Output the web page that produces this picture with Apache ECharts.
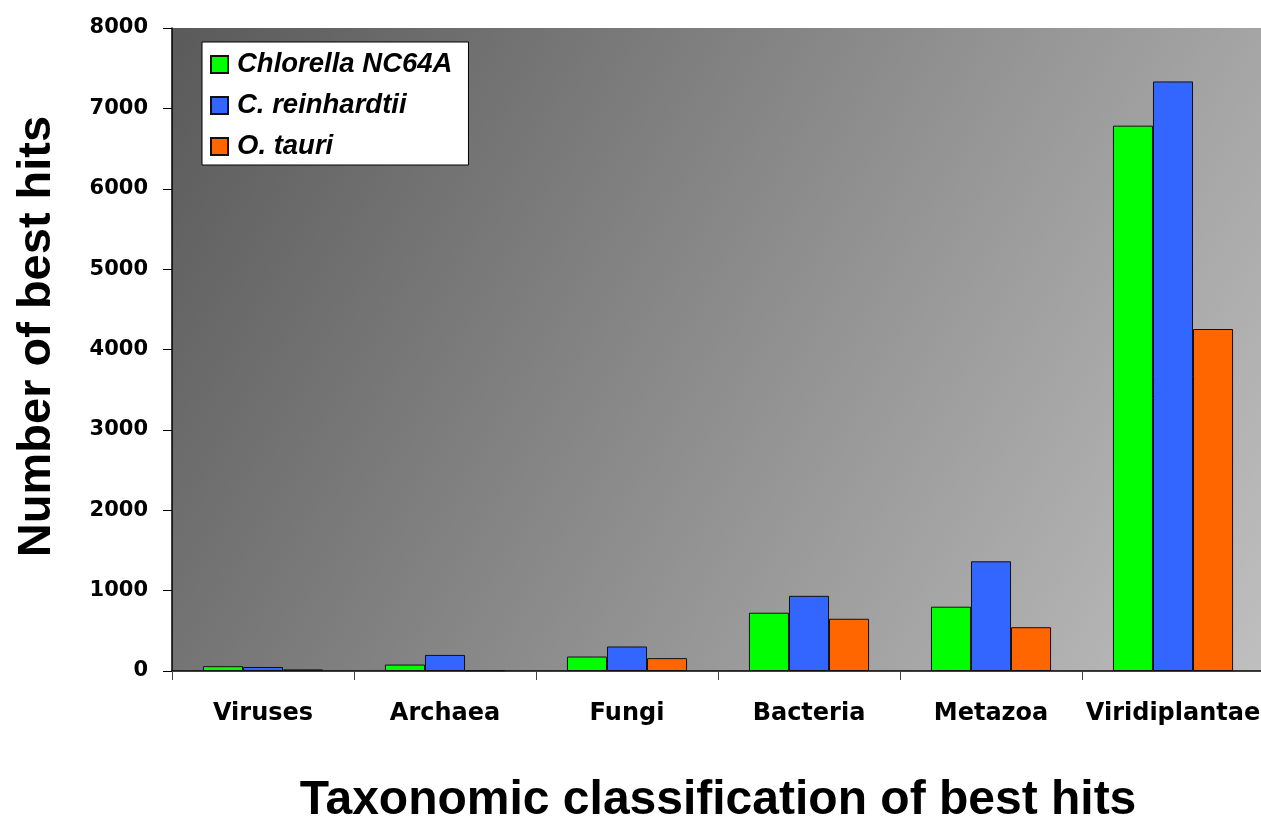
<!DOCTYPE html>
<html>
<head>
<meta charset="utf-8">
<script src="https://cdn.jsdelivr.net/npm/echarts@6/dist/echarts.min.js"></script>
<style>
html,body{margin:0;padding:0;background:#fff;}
#chart{width:1261px;height:818px;}
</style>
</head>
<body>
<div id="chart"></div>
<script>
var categories = ['Viruses', 'Archaea', 'Fungi', 'Bacteria', 'Metazoa', 'Viridiplantae'];
var chlorella = [60, 80, 180, 725, 800, 6785];
var reinhardtii = [50, 200, 305, 935, 1365, 7335];
var tauri = [20, 10, 160, 650, 545, 4255];
var seriesNames = ['Chlorella NC64A', 'C. reinhardtii', 'O. tauri'];
var yTicks = [0, 1000, 2000, 3000, 4000, 5000, 6000, 7000, 8000];

var chart = echarts.init(document.getElementById('chart'));
var FONT = '"Liberation Sans", Arial, sans-serif';
var TICKFONT = '"DejaVu Sans", sans-serif';
var colors = ['#00ff00', '#3366ff', '#ff6600'];
function mk(name, data, i) {
  return {
    name: name, type: 'bar', data: data,
    barGap: '0%', barCategoryGap: '34%',
    itemStyle: { color: colors[i], borderColor: '#111', borderWidth: 1 }
  };
}
chart.setOption({
  animation: false,
  grid: {
    left: 172, top: 28, width: 1092, height: 643,
    containLabel: false, outerBoundsMode: 'none',
    show: true, borderWidth: 0,
    backgroundColor: new echarts.graphic.LinearGradient(0, 0, 1, 1, [
      { offset: 0, color: '#5a5a5a' },
      { offset: 1, color: '#bfbfbf' }
    ])
  },
  legend: {
    orient: 'vertical', left: 202, top: 42,
    data: seriesNames.map(function (n) { return { name: n, icon: 'rect' }; }),
    backgroundColor: '#ffffff', borderColor: '#000', borderWidth: 1,
    padding: [9, 16, 5, 8],
    itemWidth: 17, itemHeight: 17, itemGap: 14,
    textStyle: { fontFamily: FONT, fontWeight: 'bold', fontStyle: 'italic', fontSize: 27.5, lineHeight: 26, color: '#000', padding: [0, 0, 0, 4] }
  },
  xAxis: {
    type: 'category', data: categories,
    name: 'Taxonomic classification of best hits',
    nameLocation: 'middle', nameGap: 106,
    nameTextStyle: { fontFamily: FONT, fontWeight: 'bold', fontSize: 48, color: '#000' },
    axisLine: { lineStyle: { color: '#000', width: 1.5 } },
    axisTick: { show: true, interval: 0, length: 9, lineStyle: { color: '#444' } },
    axisLabel: { interval: 0, hideOverlap: false, fontFamily: TICKFONT, fontWeight: 'bold', fontSize: 24, color: '#000', margin: 31 }
  },
  yAxis: {
    type: 'value', min: yTicks[0], max: yTicks[yTicks.length - 1], interval: 1000,
    name: 'Number of best hits',
    nameLocation: 'middle', nameGap: 111, nameRotate: 90,
    nameTextStyle: { fontFamily: FONT, fontWeight: 'bold', fontSize: 47, color: '#000', padding: [0, 0, 0, 26] },
    axisLine: { show: true, lineStyle: { color: '#000', width: 1.5 } },
    axisTick: { show: true, length: 9, lineStyle: { color: '#000' } },
    splitLine: { show: false },
    axisLabel: { fontFamily: TICKFONT, fontWeight: 'bold', fontSize: 21, color: '#000', margin: 24,
      formatter: function (v) { return String(v); } }
  },
  series: [mk(seriesNames[0], chlorella, 0), mk(seriesNames[1], reinhardtii, 1), mk(seriesNames[2], tauri, 2)]
});
</script>
</body>
</html>
